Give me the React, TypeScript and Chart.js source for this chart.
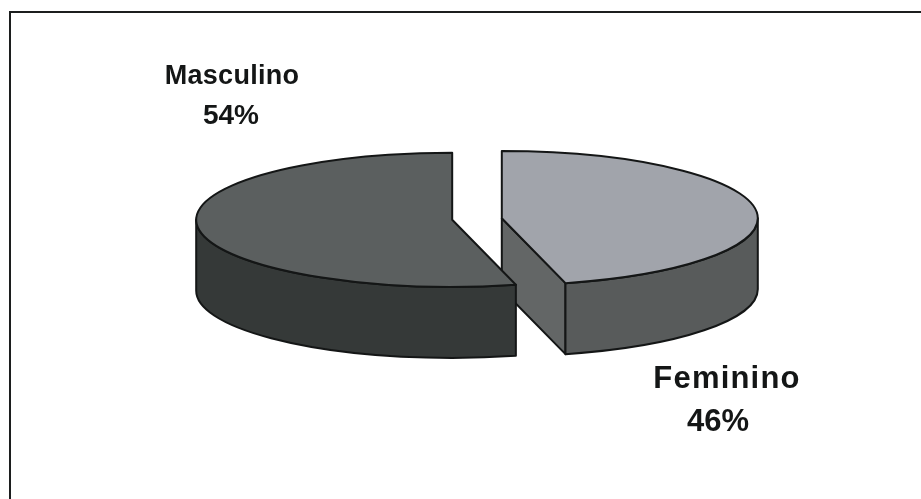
import React, { useEffect, useRef } from "react";
import { Chart, registerables } from "chart.js";

Chart.register(...registerables);

// Slices run clockwise from twelve o'clock.
const categories = ["Feminino", "Masculino"];
const shares = [46, 54];
const topColors = ["#a1a4ab", "#5b5f5f"];
const wallColors = ["#585b5b", "#353938"];
const cutFaceColors = ["#636666", "#353938"];

const WIDTH = 921;
const HEIGHT = 499;
const TILT = 0.262;
const DEPTH = 71;
const EXPLODE = 25;
const OUTLINE = "#141616";

type Caption = { name: [number, number, number, number]; pct: [number, number, number] };
// x, baseline, font size and letter spacing of each caption's two lines
const captions: Caption[] = [
  { name: [727, 388, 31, 1.2], pct: [718, 431, 31] },
  { name: [232, 84, 27, 0.3], pct: [231, 124, 28] },
];

// Where a slice really sits once it is pulled out and flattened.
function sliceGeometry(arc: any) {
  const { x, y, startAngle, endAngle, outerRadius } = arc;
  const mid = (startAngle + endAngle) / 2;
  return {
    cx: x + Math.cos(mid) * EXPLODE,
    cy: y + Math.sin(mid) * EXPLODE * TILT,
    r: outerRadius,
    start: startAngle,
    end: endAngle,
  };
}

const extrudedPie = {
  id: "extrudedPie",
  beforeDatasetsDraw(chart: any) {
    const { ctx } = chart;
    ctx.save();
    ctx.lineWidth = 2;
    ctx.lineJoin = "round";
    ctx.strokeStyle = OUTLINE;
    chart.getDatasetMeta(0).data.forEach((arc: any, i: number) => {
      const g = sliceGeometry(arc);
      const ry = g.r * TILT;

      // Straight cut faces that turn toward the viewer
      const faces: number[] = [];
      if (Math.cos(g.end) > 1e-6) faces.push(g.end);
      if (-Math.cos(g.start) > 1e-6) faces.push(g.start);
      faces.forEach((a) => {
        const px = g.cx + g.r * Math.cos(a);
        const py = g.cy + ry * Math.sin(a);
        ctx.beginPath();
        ctx.moveTo(g.cx, g.cy);
        ctx.lineTo(px, py);
        ctx.lineTo(px, py + DEPTH);
        ctx.lineTo(g.cx, g.cy + DEPTH);
        ctx.closePath();
        ctx.fillStyle = cutFaceColors[i];
        ctx.fill();
        ctx.stroke();
      });

      // Rim: only the part on the near half of the ellipse is visible
      const a0 = Math.max(g.start, 0);
      const a1 = Math.min(g.end, Math.PI);
      if (a1 > a0) {
        ctx.beginPath();
        ctx.ellipse(g.cx, g.cy, g.r, ry, 0, a0, a1);
        ctx.ellipse(g.cx, g.cy + DEPTH, g.r, ry, 0, a1, a0, true);
        ctx.closePath();
        ctx.fillStyle = wallColors[i];
        ctx.fill();
        ctx.stroke();
      }
    });
    ctx.restore();
  },
  // The library's arcs become the flattened top: each one is moved and squashed, then drawn.
  beforeDatasetDraw(chart: any) {
    const { ctx, chartArea } = chart;
    chart.getDatasetMeta(0).data.forEach((arc: any) => {
      const g = sliceGeometry(arc);
      ctx.save();
      ctx.translate(g.cx, g.cy);
      ctx.scale(1, TILT);
      ctx.translate(-arc.x, -arc.y);
      arc.draw(ctx, chartArea);
      ctx.restore();
    });
    return false;
  },
  afterDatasetsDraw(chart: any) {
    const { ctx } = chart;
    ctx.save();
    ctx.lineWidth = 2;
    ctx.lineJoin = "round";
    ctx.strokeStyle = OUTLINE;
    chart.getDatasetMeta(0).data.forEach((arc: any) => {
      const g = sliceGeometry(arc);
      ctx.beginPath();
      ctx.moveTo(g.cx, g.cy);
      ctx.ellipse(g.cx, g.cy, g.r, g.r * TILT, 0, g.start, g.end);
      ctx.closePath();
      ctx.stroke();
    });
    ctx.restore();
  },
  afterDraw(chart: any) {
    const { ctx } = chart;
    ctx.save();

    // Frame: only the top and left rules
    ctx.strokeStyle = "#1c1e1e";
    ctx.lineWidth = 2;
    ctx.beginPath();
    ctx.moveTo(10, HEIGHT);
    ctx.lineTo(10, 12);
    ctx.lineTo(WIDTH, 12);
    ctx.stroke();

    ctx.fillStyle = "#141616";
    ctx.textAlign = "center";
    ctx.textBaseline = "alphabetic";
    captions.forEach((c, i) => {
      const [nx, ny, nSize, nSpacing] = c.name;
      ctx.font = `bold ${nSize}px "Liberation Sans", Arial, sans-serif`;
      ctx.letterSpacing = `${nSpacing}px`;
      ctx.fillText(categories[i], nx, ny);
      const [px, py, pSize] = c.pct;
      ctx.font = `bold ${pSize}px "Liberation Sans", Arial, sans-serif`;
      ctx.letterSpacing = "0px";
      ctx.fillText(`${shares[i]}%`, px, py);
    });
    ctx.restore();
  },
};

export default function App() {
  const canvasRef = useRef<HTMLCanvasElement | null>(null);

  useEffect(() => {
    const chart = new Chart(canvasRef.current as HTMLCanvasElement, {
      type: "pie",
      data: {
        labels: categories,
        datasets: [
          {
            data: shares,
            backgroundColor: topColors,
            borderWidth: 0,
            clip: false,
          } as any,
        ],
      },
      options: {
        animation: false,
        responsive: false,
        radius: 256,
        layout: { padding: { left: 33, bottom: 61 } },
        events: [],
        plugins: {
          legend: { display: false },
          tooltip: { enabled: false },
        },
      } as any,
      plugins: [extrudedPie],
    });
    return () => chart.destroy();
  }, []);

  return (
    <div style={{ position: "fixed", left: 0, top: 0, width: WIDTH, height: HEIGHT, background: "#fff" }}>
      <canvas ref={canvasRef} width={WIDTH} height={HEIGHT} style={{ display: "block" }} />
    </div>
  );
}
